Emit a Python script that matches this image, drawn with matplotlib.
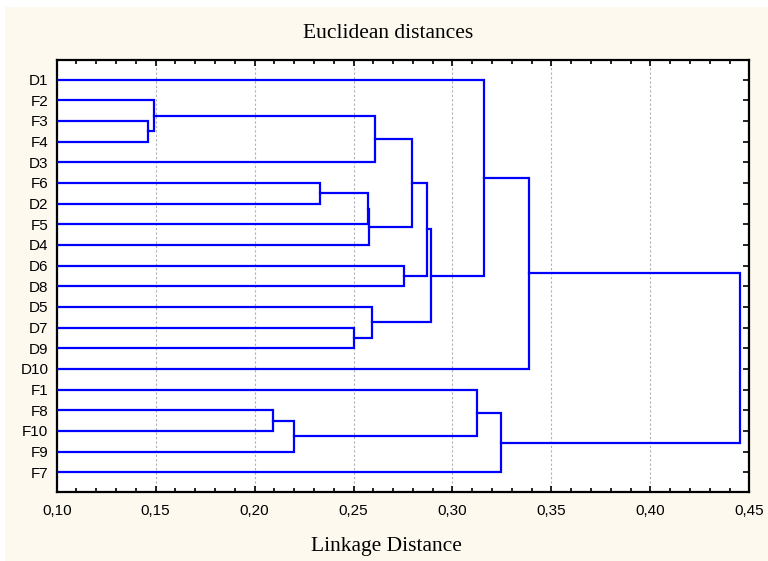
import matplotlib
matplotlib.use('Agg')
import matplotlib.pyplot as plt
from matplotlib.patches import Rectangle
from matplotlib.ticker import MultipleLocator, FuncFormatter

# leaf order, top to bottom
leaves = ['D1', 'F2', 'F3', 'F4', 'D3', 'F6', 'D2', 'F5', 'D4', 'D6',
          'D8', 'D5', 'D7', 'D9', 'D10', 'F1', 'F8', 'F10', 'F9', 'F7']

# joins: (left, right, linkage distance); cN = result of join N
join_a = ['F3', 'F2', 'c1', 'F6', 'c3', 'c4', 'c2', 'D6', 'c6', 'D7',
          'D5', 'c8', 'D1', 'c12', 'F8', 'c14', 'F1', 'c16', 'c13']
join_b = ['F4', 'c0', 'D3', 'D2', 'F5', 'D4', 'c5', 'D8', 'c7', 'D9',
          'c9', 'c10', 'c11', 'D10', 'F10', 'F9', 'c15', 'F7', 'c17']
join_d = [0.1463, 0.1490, 0.2610, 0.2330, 0.2575, 0.2580, 0.2794, 0.2755,
          0.2873, 0.2504, 0.2592, 0.2891, 0.3159, 0.3387, 0.2092, 0.2201,
          0.3124, 0.3245, 0.4453]

xmin, xmax = 0.10, 0.45

fig = plt.figure(figsize=(7.68, 5.61), dpi=100, facecolor='white')
fig.patches.append(Rectangle((5 / 768, 0), 1, 1 - 7 / 561, transform=fig.transFigure,
                             facecolor='#fdf9ef', edgecolor='none', zorder=-10))
ax = fig.add_axes([56.7 / 768, 1 - 491.7 / 561, (749.3 - 56.7) / 768, (491.7 - 60) / 561])
ax.set_facecolor('white')

pos = {name: (xmin, i) for i, name in enumerate(leaves)}
for i, (a, b, d) in enumerate(zip(join_a, join_b, join_d)):
    xa, ya = pos[a]
    xb, yb = pos[b]
    ax.plot([xa, d, d, xb], [ya, ya, yb, yb], color='#0000ff', lw=1.6,
            solid_joinstyle='miter', zorder=3)
    pos['c%d' % i] = (d, (ya + yb) / 2)

ax.set_xlim(xmin, xmax)
ax.set_ylim(len(leaves) - 1 + 0.94, -0.95)
ax.set_yticks(range(len(leaves)))
ax.set_yticklabels(leaves, family='Liberation Sans', fontsize=11)

ax.xaxis.set_major_locator(MultipleLocator(0.05))
ax.xaxis.set_minor_locator(MultipleLocator(0.01))
ax.xaxis.set_major_formatter(FuncFormatter(lambda v, p: ('%.2f' % v).replace('.', ',')))
for lab in ax.get_xticklabels():
    lab.set_family('Liberation Sans')
    lab.set_fontsize(11)
ax.tick_params(axis='both', which='both', direction='in', top=True, right=True,
               color='black', width=1.2)
ax.tick_params(axis='both', which='major', length=4.5, pad=6)
ax.tick_params(axis='both', which='minor', length=3)
ax.tick_params(axis='x', which='major', pad=9)
ax.grid(axis='x', which='major', color='#b0b0b0', linestyle=(0, (2, 2)), lw=0.8)
for s in ax.spines.values():
    s.set_linewidth(1.6)
    s.set_color('black')

fig.text(0.505, 1 - 33 / 561, 'Euclidean distances', ha='center', va='center',
         family='Liberation Serif', fontsize=15.5)
fig.text(0.503, 1 - 546 / 561, 'Linkage Distance', ha='center', va='center',
         family='Liberation Serif', fontsize=15.5)

fig.savefig('out.png', dpi=100, facecolor=fig.get_facecolor())
